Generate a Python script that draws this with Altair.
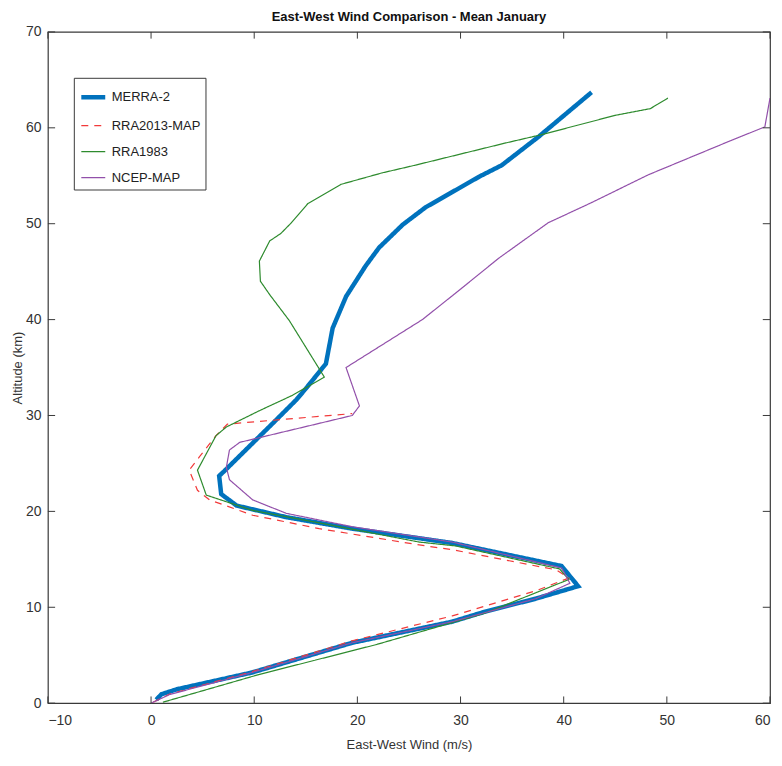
import altair as alt
import pandas as pd

# ---- data (x = East-West wind m/s, y = altitude km) ----
MERRA2_U = [0.5, 1.0, 2.5, 9.8, 19.5, 29.2, 32.4, 37.3, 41.4, 39.8, 29.2, 26.0, 19.5, 13.1, 8.3, 6.8,
            6.6, 7.1, 12.0, 14.05, 15.0, 16.95, 17.6, 18.9, 20.8, 22.1, 24.4, 26.6, 31.8, 34.0, 37.6, 42.7]
MERRA2_Z = [0.35, 0.93, 1.45, 3.2, 6.3, 8.5, 9.55, 10.9, 12.2, 14.3, 16.7, 17.2, 18.2, 19.4, 20.6, 21.8,
            23.7, 24.2, 29.4, 31.6, 32.8, 35.4, 39.1, 42.4, 45.6, 47.5, 49.9, 51.7, 54.9, 56.1, 59.1, 63.7]

RRA2013_U = [0.2, 1.8, 9.5, 19.5, 29.2, 37.25, 40.5, 39.3, 29.2, 26.0, 16.3, 9.85, 5.66, 4.5, 3.7, 4.7,
             6.3, 7.4, 19.5]
RRA2013_Z = [0.1, 0.95, 3.2, 6.5, 9.1, 11.7, 13.05, 13.9, 16.0, 16.5, 18.2, 19.6, 21.2, 22.2, 24.3, 25.7,
             27.9, 29.1, 30.2]

RRA1983_U = [1.15, 10.5, 21.8, 32.4, 40.5, 39.6, 29.5, 26.0, 16.3, 9.85, 5.35, 4.5, 5.35, 6.3, 7.3, 10.5,
             13.7, 16.8, 13.4, 11.5, 10.6, 10.5, 11.5, 12.6, 13.6, 15.2, 18.4, 22.4, 25.6, 34.3, 37.9,
             45.0, 48.4, 50.1]
RRA1983_Z = [0.1, 3.0, 6.1, 9.4, 12.9, 14.0, 16.4, 16.8, 18.8, 20.1, 21.7, 24.3, 26.0, 27.9, 28.8, 30.5,
             32.1, 34.0, 39.9, 42.6, 44.0, 46.1, 48.2, 49.0, 50.1, 52.1, 54.1, 55.3, 56.1, 58.4, 59.3,
             61.3, 62.0, 63.1]

NCEP_U = [0.0, 1.8, 9.8, 19.5, 29.2, 37.3, 40.6, 39.8, 29.2, 19.5, 13.1, 9.85, 7.6, 7.3, 7.6, 8.6,
          19.5, 20.2, 18.9, 26.3, 29.8, 33.7, 38.5, 42.7, 48.2, 55.6, 59.5, 60.0]
NCEP_Z = [0.0, 0.9, 3.2, 6.3, 8.5, 10.9, 12.5, 14.1, 16.8, 18.4, 19.8, 21.2, 23.3, 24.6, 26.4, 27.2,
          30.0, 31.0, 35.0, 40.0, 43.0, 46.4, 50.1, 52.2, 55.1, 58.4, 60.1, 63.1]

SERIES = ["MERRA-2", "RRA2013-MAP", "RRA1983", "NCEP-MAP"]
COLORS = ["#0072BD", "#F23A3A", "#2E8B2E", "#9250AA"]
WIDTHS = [4.5, 1.2, 1.2, 1.2]
DASHES = [[1, 0], [7, 6], [1, 0], [1, 0]]

X_TICKS = [-10, 0, 10, 20, 30, 40, 50, 60]
Y_TICKS = [0, 10, 20, 30, 40, 50, 60, 70]

FONT = "Liberation Sans"
GRAY = "#3a3a3a"

rows = []
for name, us, zs in [("MERRA-2", MERRA2_U, MERRA2_Z), ("RRA2013-MAP", RRA2013_U, RRA2013_Z),
                     ("RRA1983", RRA1983_U, RRA1983_Z), ("NCEP-MAP", NCEP_U, NCEP_Z)]:
    for i, (u, z) in enumerate(zip(us, zs)):
        rows.append({"series": name, "u": u, "z": z, "idx": i})
df = pd.DataFrame(rows)

xscale = alt.Scale(domain=[-10, 60], nice=False, zero=False)
yscale = alt.Scale(domain=[0, 70], nice=False, zero=False)

lines = alt.Chart(df).mark_line(clip=True).encode(
    x=alt.X("u:Q", scale=xscale,
            axis=alt.Axis(values=X_TICKS, title="East-West Wind (m/s)", ticks=False, domain=False,
                          grid=False, labelPadding=10, titlePadding=11,
                          labelFont=FONT, labelFontSize=14, labelColor="#333",
                          titleFont=FONT, titleFontSize=13, titleColor="#333",
                          titleFontWeight="normal")),
    y=alt.Y("z:Q", scale=yscale,
            axis=alt.Axis(values=Y_TICKS, title="Altitude (km)", ticks=False, domain=False,
                          grid=False, labelPadding=7, titlePadding=1,
                          labelFont=FONT, labelFontSize=14, labelColor="#333",
                          titleFont=FONT, titleFontSize=13, titleColor="#333",
                          titleFontWeight="normal")),
    color=alt.Color("series:N", scale=alt.Scale(domain=SERIES, range=COLORS),
                    legend=alt.Legend(title=None, orient="none", legendX=26, legendY=46,
                                      symbolType="stroke", symbolSize=576,
                                      strokeColor=GRAY, fillColor="white", padding=5,
                                      labelFont=FONT, labelFontSize=13, labelColor="#222",
                                      rowPadding=6, labelOffset=4)),
    strokeDash=alt.StrokeDash("series:N", scale=alt.Scale(domain=SERIES, range=DASHES), legend=None),
    strokeWidth=alt.StrokeWidth("series:N",
                                scale=alt.Scale(type="ordinal", domain=SERIES, range=WIDTHS),
                                legend=None),
    order=alt.Order("idx:Q"),
)

# inward box ticks (MATLAB style), built from the tick value lists
xt = pd.DataFrame({"v": X_TICKS})
yt = pd.DataFrame({"v": Y_TICKS})
tick_len_y = 0.7
tick_len_x = 0.7
bottom = alt.Chart(xt).mark_rule(color=GRAY, strokeWidth=1).encode(
    x=alt.X("v:Q", scale=xscale), y=alt.datum(0), y2=alt.datum(tick_len_y))
top = alt.Chart(xt).mark_rule(color=GRAY, strokeWidth=1).encode(
    x=alt.X("v:Q", scale=xscale), y=alt.datum(70), y2=alt.datum(70 - tick_len_y))
left = alt.Chart(yt).mark_rule(color=GRAY, strokeWidth=1).encode(
    y=alt.Y("v:Q", scale=yscale), x=alt.datum(-10), x2=alt.datum(-10 + tick_len_x))
right = alt.Chart(yt).mark_rule(color=GRAY, strokeWidth=1).encode(
    y=alt.Y("v:Q", scale=yscale), x=alt.datum(60), x2=alt.datum(60 - tick_len_x))

chart = alt.layer(lines, bottom, top, left, right).properties(
    width=724, height=673,
    title=alt.Title("East-West Wind Comparison - Mean January", font=FONT, fontSize=13,
                    fontWeight="bold", color="#111", offset=1),
    autosize=alt.AutoSizeParams(type="none"),
    padding={"left": 40, "top": 23, "right": 4, "bottom": 58},
    background="white",
).configure_view(
    stroke=GRAY, strokeWidth=1.2
)

chart.save("out.html", embed_options={"renderer": "svg", "actions": False})
